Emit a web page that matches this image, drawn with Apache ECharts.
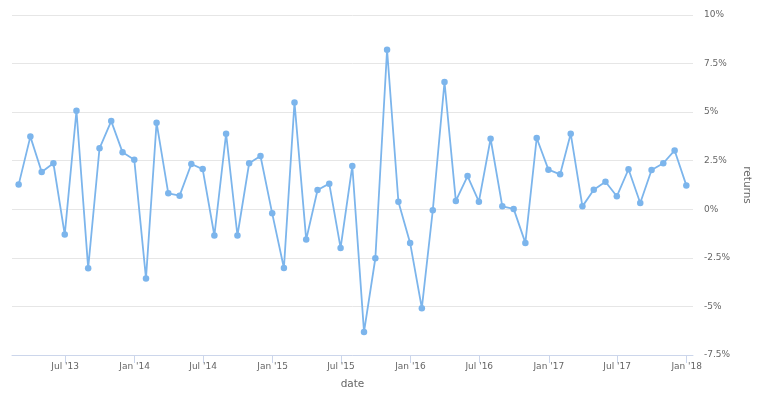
<!DOCTYPE html>
<html>
<head>
<meta charset="utf-8">
<script src="https://cdn.jsdelivr.net/npm/echarts@6/dist/echarts.min.js"></script>
<style>
html,body{margin:0;padding:0;background:#fff;}
#chart{width:760px;height:404px;}
</style>
</head>
<body>
<div id="chart"></div>
<script>
const dates = [
  '2013-02-28','2013-03-31','2013-04-30','2013-05-31','2013-06-30','2013-07-31','2013-08-31','2013-09-30','2013-10-31','2013-11-30','2013-12-31',
  '2014-01-31','2014-02-28','2014-03-31','2014-04-30','2014-05-31','2014-06-30','2014-07-31','2014-08-31','2014-09-30','2014-10-31','2014-11-30','2014-12-31',
  '2015-01-31','2015-02-28','2015-03-31','2015-04-30','2015-05-31','2015-06-30','2015-07-31','2015-08-31','2015-09-30','2015-10-31','2015-11-30','2015-12-31',
  '2016-01-31','2016-02-29','2016-03-31','2016-04-30','2016-05-31','2016-06-30','2016-07-31','2016-08-31','2016-09-30','2016-10-31','2016-11-30','2016-12-31',
  '2017-01-31','2017-02-28','2017-03-31','2017-04-30','2017-05-31','2017-06-30','2017-07-31','2017-08-31','2017-09-30','2017-10-31','2017-11-30','2017-12-31'
];
const returns = [
  1.27, 3.74, 1.92, 2.37, -1.30, 5.07, -3.03, 3.14, 4.54, 2.93, 2.55,
  -3.56, 4.46, 0.82, 0.70, 2.33, 2.07, -1.35, 3.89, -1.35, 2.37, 2.74,
  -0.21, -3.02, 5.50, -1.56, 0.99, 1.32, -1.99, 2.23, -6.31, -2.52, 8.21, 0.39,
  -1.73, -5.09, -0.05, 6.55, 0.43, 1.71, 0.39, 3.63, 0.15, 0.02, -1.73, 3.67,
  2.04, 1.80, 3.89, 0.15, 1.01, 1.42, 0.67, 2.06, 0.32, 2.02, 2.37, 3.03, 1.23
];
const xTickDates = ['2013-07-01','2014-01-01','2014-07-01','2015-01-01','2015-07-01','2016-01-01','2016-07-01','2017-01-01','2017-07-01','2018-01-01'];
const xTickLabels = ["Jul '13","Jan '14","Jul '14","Jan '15","Jul '15","Jan '16","Jul '16","Jan '17","Jul '17","Jan '18"];
const yMin = -7.5, yMax = 10, yStep = 2.5;

const toTs = s => { const p = s.split('-').map(Number); return Date.UTC(p[0], p[1]-1, p[2]); };
const DAY = 86400000;
const pad = 17.6 * DAY;
const tickTs = xTickDates.map(toTs);
const labelMap = {};
tickTs.forEach((t, i) => labelMap[t] = xTickLabels[i]);
const seriesData = dates.map((d, i) => [toTs(d), returns[i]]);

const font = '"DejaVu Sans", "Lucida Grande", sans-serif';
const chart = echarts.init(document.getElementById('chart'), null, {renderer: 'canvas'});
chart.setOption({
  animation: false,
  backgroundColor: '#ffffff',
  grid: {left: 12, right: 64, top: 15, bottom: 49, containLabel: false},
  xAxis: {
    type: 'value',
    scale: true,
    min: toTs(dates[0]) - pad,
    max: toTs(dates[dates.length - 1]) + pad,
    name: 'date',
    nameLocation: 'middle',
    nameGap: 24,
    nameTextStyle: {color: '#666666', fontSize: 10.5, fontFamily: font},
    axisLine: {show: true, onZero: false, lineStyle: {color: '#ccd6eb', width: 1}},
    axisTick: {show: true, length: 8, inside: false, customValues: tickTs, lineStyle: {color: '#ccd6eb', width: 1}},
    axisLabel: {
      show: true, customValues: tickTs, margin: 7,
      color: '#666666', fontSize: 9, fontFamily: font,
      formatter: v => labelMap[v] || ''
    },
    splitLine: {show: false},
    minorTick: {show: false}
  },
  yAxis: {
    type: 'value',
    position: 'right',
    min: yMin, max: yMax, interval: yStep,
    name: 'returns',
    nameLocation: 'middle',
    nameRotate: -90,
    nameGap: 42,
    nameTextStyle: {color: '#666666', fontSize: 10.5, fontFamily: font},
    axisLine: {show: false},
    axisTick: {show: false},
    axisLabel: {
      color: '#666666', fontSize: 9, fontFamily: font, margin: 11,
      formatter: v => (Math.round(v * 10) / 10) + '%'
    },
    splitLine: {show: true, lineStyle: {color: '#e6e6e6', width: 1}}
  },
  series: [{
    type: 'line',
    data: seriesData,
    symbol: 'circle',
    symbolSize: 6.5,
    showSymbol: true,
    lineStyle: {color: '#7cb5ec', width: 1.8},
    itemStyle: {color: '#7cb5ec'},
    emphasis: {disabled: true}
  }]
});
</script>
</body>
</html>
